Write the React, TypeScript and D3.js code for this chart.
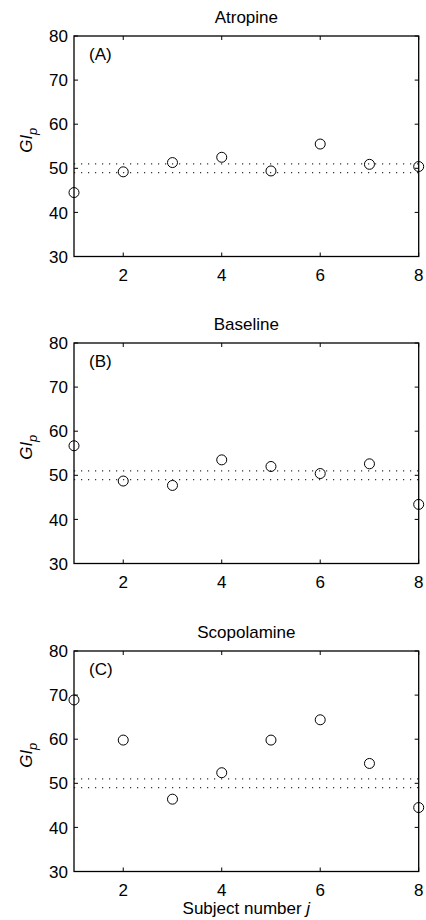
import React from "react";
import * as d3 from "d3";

const subjects = [1, 2, 3, 4, 5, 6, 7, 8];
const atropine = [44.5, 49.2, 51.3, 52.5, 49.4, 55.5, 50.9, 50.4];
const baseline = [56.7, 48.7, 47.7, 53.5, 52.0, 50.4, 52.6, 43.4];
const scopolamine = [68.9, 59.8, 46.4, 52.4, 59.8, 64.4, 54.5, 44.5];
const refLines = [49, 51];
const yTicks = [30, 40, 50, 60, 70, 80];
const xTicks = [2, 4, 6, 8];

const panels = [
  { title: "Atropine", tag: "(A)", values: atropine, top: 36 },
  { title: "Baseline", tag: "(B)", values: baseline, top: 343 },
  { title: "Scopolamine", tag: "(C)", values: scopolamine, top: 651 },
];

const left = 74;
const right = 418.7;
const plotH = 220.5;
const font = "'Liberation Sans', Arial, Helvetica, sans-serif";
const fs = 17;

const x = d3.scaleLinear().domain([1, 8]).range([left, right]);

function Panel({ title, tag, values, top }) {
  const y = d3.scaleLinear().domain([30, 80]).range([top + plotH, top]);
  const bottom = top + plotH;
  const tickLen = 4;
  const mid = (top + bottom) / 2;
  return (
    <g>
      <text x={(left + right) / 2} y={top - 13} textAnchor="middle" fontSize={fs} fontFamily={font}>
        {title}
      </text>
      {refLines.map(v => (
        <line
          key={v}
          x1={x(1)}
          x2={x(8)}
          y1={y(v)}
          y2={y(v)}
          stroke="#333"
          strokeWidth={1.2}
          strokeDasharray="1.2 5.8"
        />
      ))}
      <rect x={left} y={top} width={right - left} height={plotH} fill="none" stroke="#000" strokeWidth={1.3} />
      {yTicks.map(t => (
        <g key={t}>
          <line x1={left} x2={left + tickLen} y1={y(t)} y2={y(t)} stroke="#000" />
          <line x1={right} x2={right - tickLen} y1={y(t)} y2={y(t)} stroke="#000" />
          <text x={left - 6} y={y(t)} dy="0.36em" textAnchor="end" fontSize={fs} fontFamily={font}>
            {t}
          </text>
        </g>
      ))}
      {xTicks.map(t => (
        <g key={t}>
          <line x1={x(t)} x2={x(t)} y1={bottom} y2={bottom - tickLen} stroke="#000" />
          <line x1={x(t)} x2={x(t)} y1={top} y2={top + tickLen} stroke="#000" />
          <text x={x(t)} y={bottom + 24.5} textAnchor="middle" fontSize={fs} fontFamily={font}>
            {t}
          </text>
        </g>
      ))}
      <text x={89} y={top + 23.5} fontSize={fs} fontFamily={font}>
        {tag}
      </text>
      {values.map((v, i) => (
        <circle key={i} cx={x(subjects[i])} cy={y(v)} r={5} fill="none" stroke="#000" strokeWidth={1} />
      ))}
      <text
        transform={`translate(32,${mid - 6}) rotate(-90)`}
        textAnchor="middle"
        fontSize={fs}
        fontFamily={font}
      >
        <tspan fontStyle="italic">GI</tspan>
        <tspan fontStyle="italic" fontSize={13} dy="5">p</tspan>
      </text>
    </g>
  );
}

export default function App() {
  return (
    <svg width={426} height={920} style={{ position: "absolute", left: 0, top: 0, background: "#fff" }}>
      <rect width={426} height={920} fill="#fff" />
      {panels.map(p => (
        <Panel key={p.title} {...p} />
      ))}
      <text x={(left + right) / 2} y={914} textAnchor="middle" fontSize={fs} fontFamily={font}>
        Subject number <tspan fontStyle="italic">j</tspan>
      </text>
    </svg>
  );
}
